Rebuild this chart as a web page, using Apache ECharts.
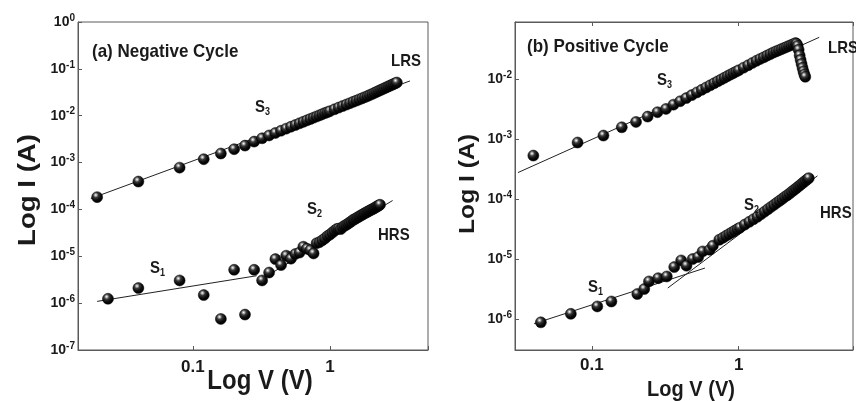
<!DOCTYPE html>
<html><head><meta charset="utf-8">
<script src="https://cdn.jsdelivr.net/npm/echarts@6/dist/echarts.min.js"></script>
<style>html,body{margin:0;padding:0;background:#fff}#c{width:856px;height:401px}</style>
</head><body><div id="c"></div>
<script>
// ---- data (V in volts, I in amperes) ----
const leftLrsV = [0.02,0.04,0.08,0.12,0.16,0.20,0.24,0.28,0.32,0.36,0.40,0.44,0.48,0.52,0.56,0.60,0.64,0.68,0.72,0.76,0.80,0.84,0.88,0.92,0.96,1.00,1.08,1.16,1.24,1.32,1.40,1.48,1.56,1.64,1.72,1.80,1.88,1.96,2.04,2.12,2.20,2.28,2.36,2.44,2.52,2.60,2.68,2.76,2.84,2.92,3.00,3.08];
const leftLrsI = [1.83e-4,3.93e-4,7.8e-4,1.18e-3,1.56e-3,1.93e-3,2.30e-3,2.80e-3,3.30e-3,3.79e-3,4.28e-3,4.78e-3,5.30e-3,5.82e-3,6.34e-3,6.87e-3,7.41e-3,7.96e-3,8.51e-3,9.08e-3,9.64e-3,1.02e-2,1.08e-2,1.14e-2,1.19e-2,1.25e-2,1.37e-2,1.49e-2,1.61e-2,1.73e-2,1.85e-2,1.98e-2,2.10e-2,2.23e-2,2.36e-2,2.49e-2,2.62e-2,2.77e-2,2.92e-2,3.08e-2,3.24e-2,3.40e-2,3.56e-2,3.72e-2,3.89e-2,4.06e-2,4.23e-2,4.40e-2,4.57e-2,4.74e-2,4.92e-2,5.11e-2];
const leftHrsV = [0.024,0.04,0.08,0.12,0.16,0.20,0.24,0.28,0.32,0.36,0.40,0.44,0.48,0.52,0.56,0.60,0.64,0.68,0.72,0.76,0.80,0.84,0.88,0.92,0.96,1.00,1.04,1.08,1.12,1.16,1.20,1.24,1.28,1.32,1.36,1.40,1.44,1.48,1.52,1.56,1.60,1.64,1.68,1.72,1.76,1.80,1.84,1.88,1.92,1.96,2.00,2.04,2.08,2.12,2.16,2.20,2.24,2.28,2.32];
const leftHrsI = [1.24e-6,2.1e-6,3.05e-6,1.49e-6,4.6e-7,5.15e-6,5.7e-7,5.15e-6,3.05e-6,4.5e-6,8.7e-6,6.5e-6,1.03e-5,8.9e-6,1.12e-5,1.2e-5,1.6e-5,1.45e-5,1.35e-5,1.15e-5,1.9e-5,2.0e-5,2.2e-5,2.4e-5,2.7e-5,2.9e-5,3.2e-5,3.5e-5,3.8e-5,3.9e-5,3.8e-5,4.2e-5,4.5e-5,4.7e-5,5.0e-5,5.3e-5,5.6e-5,6.0e-5,6.2e-5,6.5e-5,6.8e-5,7.1e-5,7.4e-5,7.7e-5,8.0e-5,8.3e-5,8.6e-5,8.9e-5,9.2e-5,9.5e-5,9.8e-5,1.01e-4,1.04e-4,1.07e-4,1.11e-4,1.15e-4,1.18e-4,1.22e-4,1.26e-4];
const rightLrsV = [0.04,0.08,0.12,0.16,0.20,0.24,0.28,0.32,0.36,0.40,0.44,0.48,0.52,0.56,0.60,0.64,0.68,0.72,0.76,0.80,0.84,0.88,0.92,0.96,1.00,1.08,1.16,1.24,1.32,1.40,1.48,1.56,1.64,1.72,1.80,1.88,1.96,2.04,2.12,2.20,2.28,2.36,2.44,2.48,2.52,2.56,2.60,2.64,2.68,2.72,2.76,2.80,2.84];
const rightLrsI = [5.33e-4,8.8e-4,1.15e-3,1.58e-3,1.94e-3,2.38e-3,2.82e-3,3.2e-3,3.77e-3,4.3e-3,4.85e-3,5.44e-3,6.04e-3,6.65e-3,7.28e-3,7.91e-3,8.57e-3,9.23e-3,9.91e-3,1.06e-2,1.13e-2,1.20e-2,1.27e-2,1.34e-2,1.41e-2,1.56e-2,1.71e-2,1.87e-2,2.03e-2,2.18e-2,2.32e-2,2.48e-2,2.63e-2,2.79e-2,2.92e-2,3.05e-2,3.19e-2,3.33e-2,3.46e-2,3.60e-2,3.73e-2,3.87e-2,4.01e-2,3.9e-2,3.6e-2,3.1e-2,2.5e-2,2.1e-2,1.8e-2,1.55e-2,1.35e-2,1.2e-2,1.1e-2];
const rightHrsV = [0.045,0.072,0.109,0.136,0.204,0.2275,0.245,0.283,0.324,0.364,0.406,0.441,0.486,0.53,0.568,0.635,0.667,0.738,0.78,0.82,0.86,0.90,0.94,0.98,1.02,1.10,1.18,1.26,1.34,1.42,1.50,1.58,1.66,1.74,1.82,1.90,1.98,2.06,2.14,2.22,2.30,2.38,2.46,2.54,2.62,2.70,2.78,2.86,2.94,3.00];
const rightHrsI = [8.8e-7,1.22e-6,1.62e-6,1.96e-6,2.61e-6,3.16e-6,4.24e-6,4.8e-6,5.13e-6,7.36e-6,9.5e-6,7.75e-6,1.0e-5,1.08e-5,1.34e-5,1.43e-5,1.67e-5,2.1e-5,2.26e-5,2.44e-5,2.61e-5,2.79e-5,2.97e-5,3.16e-5,3.34e-5,3.76e-5,4.18e-5,4.61e-5,5.07e-5,5.61e-5,6.18e-5,6.78e-5,7.40e-5,8.04e-5,8.71e-5,9.40e-5,1.01e-4,1.09e-4,1.16e-4,1.24e-4,1.33e-4,1.42e-4,1.51e-4,1.61e-4,1.71e-4,1.82e-4,1.93e-4,2.04e-4,2.15e-4,2.24e-4];
// fitted power-law lines (two end points each)
const leftFitS3V = [0.018, 3.84];   const leftFitS3I = [1.71e-4, 5.52e-2];
const leftFitS1V = [0.02, 0.292];   const leftFitS1I = [1.09e-6, 3.84e-6];
const leftFitS2V = [0.33, 2.87];    const leftFitS2I = [3.5e-6, 1.55e-4];
const rightFitS3V = [0.0314, 3.53]; const rightFitS3I = [2.77e-4, 5.0e-2];
const rightFitS1V = [0.0405, 0.589]; const rightFitS1I = [8.35e-7, 7.08e-6];
const rightFitS2V = [0.329, 3.44];  const rightFitS2I = [3.29e-6, 2.45e-4];
// tick labels
const xTickLabels = {'-1': '0.1', '0': '1'};
const yTickExponents = ['-7','-6','-5','-4','-3','-2','-1','0'];

const FONT = '"Liberation Sans", Arial, Helvetica, sans-serif';
const TXT = '#1a1a1a';
const AX = '#5a5a5a';

const zip = (a, b) => a.map((v, i) => [v, b[i]]);
const expOf = v => { const l = Math.log10(v); const e = Math.round(l); return Math.abs(l - e) < 1e-6 ? String(e) : null; };
const xFmt = v => { const e = expOf(v); return (e !== null && xTickLabels[e]) ? xTickLabels[e] : ''; };
const yFmt = v => { const e = expOf(v); return (e !== null && yTickExponents.indexOf(e) >= 0) ? '{m|10}{s|' + e + '}' : ''; };

const sphere = {
  type: 'radial', x: 0.38, y: 0.32, r: 0.7,
  colorStops: [
    {offset: 0, color: '#ffffff'},
    {offset: 0.12, color: '#b8b8b8'},
    {offset: 0.32, color: '#3a3a3a'},
    {offset: 0.62, color: '#0d0d0d'},
    {offset: 0.9, color: '#000000'},
    {offset: 1, color: '#2a2a2a'}
  ]
};

function scatter(xi, yi, v, i, size) {
  return {type: 'scatter', xAxisIndex: xi, yAxisIndex: yi, data: zip(v, i), symbol: 'circle',
    symbolSize: size, itemStyle: {color: sphere, borderColor: '#000', borderWidth: 0.5, opacity: 1}, z: 3, silent: true, animation: false};
}
function fit(xi, yi, v, i) {
  return {type: 'line', xAxisIndex: xi, yAxisIndex: yi, data: zip(v, i), symbol: 'none',
    lineStyle: {color: '#222', width: 1}, z: 2, silent: true, animation: false};
}

function xAxisDef(grid, min, max, labelSize, margin, top) {
  return {type: 'log', logBase: 10, gridIndex: grid, min: min, max: max,
    position: top ? 'top' : 'bottom',
    axisLine: {show: true, lineStyle: {color: AX, width: 1}},
    axisTick: {show: true, inside: true, length: 4, lineStyle: {color: AX}},
    minorTick: {show: false}, splitLine: {show: false},
    axisLabel: {show: !top, formatter: xFmt, margin: margin, color: TXT,
      fontFamily: FONT, fontWeight: 'bold', fontSize: labelSize}};
}
function yAxisDef(grid, min, max, labelSize) {
  return {type: 'log', logBase: 10, gridIndex: grid, min: min, max: max,
    axisLine: {show: true, lineStyle: {color: AX, width: 1}},
    axisTick: {show: true, inside: true, length: 4, lineStyle: {color: AX}},
    minorTick: {show: false}, splitLine: {show: false},
    axisLabel: {formatter: yFmt, margin: 3, color: TXT, fontFamily: FONT, fontWeight: 'bold',
      fontSize: labelSize,
      rich: {
        m: {fontSize: labelSize, fontFamily: FONT, fontWeight: 'bold', color: TXT, lineHeight: 18},
        s: {fontSize: 10, fontFamily: FONT, fontWeight: 'bold', color: TXT, verticalAlign: 'top', lineHeight: 11}}}};
}

function txt(x, y, text, size, opts) {
  opts = opts || {};
  return {type: 'text', x: x, y: y, rotation: opts.rot || 0, scaleX: opts.sx || 1, scaleY: opts.sy || 1, z: 100, zlevel: 1,
    style: {text: text, font: 'bold ' + size + 'px ' + FONT, fill: TXT,
      textAlign: opts.align || 'left', textVerticalAlign: 'middle',
      rich: {sub: {fontSize: Math.round(size * 0.62), fontFamily: FONT, fontWeight: 'bold', fill: TXT, verticalAlign: 'bottom', lineHeight: 9},
             n: {fontSize: size, fontFamily: FONT, fontWeight: 'bold', fill: TXT, lineHeight: Math.round(size * 1.2)}}}};
}

const chart = echarts.init(document.getElementById('c'), null, {renderer: 'canvas'});
chart.setOption({
  backgroundColor: '#fff',
  animation: false,
  grid: [
    {left: 78, top: 22, width: 350, height: 328, show: true, borderColor: AX, borderWidth: 1, backgroundColor: 'transparent'},
    {left: 515, top: 22, width: 350, height: 328, show: true, borderColor: AX, borderWidth: 1, backgroundColor: 'transparent'}
  ],
  xAxis: [
    xAxisDef(0, 0.0145, 5.2, 17, 9, false),
    xAxisDef(1, 0.030, 6.0, 17, 7, false),
    xAxisDef(1, 0.030, 6.0, 17, 7, true)
  ],
  yAxis: [
    yAxisDef(0, 1e-7, 1, 14),
    yAxisDef(1, 3.04e-7, 0.0902, 14)
  ],
  series: [
    fit(0, 0, leftFitS3V, leftFitS3I),
    fit(0, 0, leftFitS1V, leftFitS1I),
    fit(0, 0, leftFitS2V, leftFitS2I),
    fit(1, 1, rightFitS3V, rightFitS3I),
    fit(1, 1, rightFitS1V, rightFitS1I),
    fit(1, 1, rightFitS2V, rightFitS2I),
    scatter(0, 0, leftLrsV, leftLrsI, 11),
    scatter(0, 0, leftHrsV, leftHrsI, 11),
    scatter(1, 1, rightLrsV, rightLrsI, 11),
    scatter(1, 1, rightHrsV, rightHrsI, 11)
  ],
  graphic: [
    txt(92, 52, '(a) Negative Cycle', 17, {sy: 1.12}),
    txt(391, 61, 'LRS', 15, {sy: 1.12}),
    txt(255, 107, '{n|S}{sub|3}', 15, {sy: 1.12}),
    txt(307, 209, '{n|S}{sub|2}', 15, {sy: 1.12}),
    txt(378, 235, 'HRS', 15, {sy: 1.12}),
    txt(150, 268, '{n|S}{sub|1}', 15, {sy: 1.12}),
    txt(28, 190, 'Log I (A)', 24, {rot: Math.PI / 2, align: 'center', sx: 1.15}),
    txt(260, 381, 'Log V (V)', 24, {align: 'center', sy: 1.15}),
    txt(527, 47, '(b) Positive Cycle', 17, {sy: 1.12}),
    txt(657, 80, '{n|S}{sub|3}', 15, {sy: 1.12}),
    txt(828, 48, 'LRS', 15, {sy: 1.12}),
    txt(744, 205, '{n|S}{sub|2}', 15, {sy: 1.12}),
    txt(820, 213, 'HRS', 15, {sy: 1.12}),
    txt(588, 287, '{n|S}{sub|1}', 15, {sy: 1.12}),
    txt(468, 184, 'Log I (A)', 22, {rot: Math.PI / 2, align: 'center', sx: 1.12}),
    txt(691, 390, 'Log V (V)', 20, {align: 'center', sy: 1.12})
  ]
});
</script>
</body></html>
